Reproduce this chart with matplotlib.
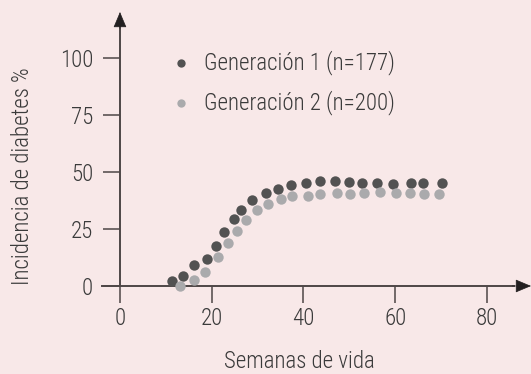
import matplotlib
matplotlib.use("Agg")
import matplotlib.pyplot as plt
from matplotlib import font_manager

# pick a narrow/light face, the original uses a condensed light sans
names = {f.name for f in font_manager.fontManager.ttflist}
family, weight, fsize = "DejaVu Sans", "normal", 13
for cand, w, s in [("Roboto Condensed", "light", 16.5),
                   ("Liberation Sans Narrow", "normal", 16),
                   ("Roboto", "light", 14)]:
    if cand in names:
        family, weight, fsize = cand, w, s
        break
plt.rcParams["font.family"] = [family, "DejaVu Sans"]
plt.rcParams["font.weight"] = weight

# data (weeks of life, % incidence)
weeks_g1 = [11.3, 13.8, 16.1, 19.0, 21.0, 22.7, 24.8, 26.4, 28.8, 31.9, 34.4,
            37.3, 40.6, 43.7, 46.9, 50.0, 52.8, 56.1, 59.6, 63.4, 66.0, 70.2]
inc_g1 = [2.2, 4.5, 9.2, 11.8, 17.7, 23.8, 29.4, 33.3, 37.6, 40.7, 42.7,
          44.4, 45.0, 46.1, 46.1, 45.6, 45.3, 45.3, 44.7, 45.3, 45.0, 45.3]
weeks_g2 = [13.1, 16.1, 18.5, 21.4, 23.6, 25.6, 27.4, 29.9, 32.3, 35.2, 37.6,
            40.9, 43.7, 47.3, 50.1, 53.3, 56.6, 60.1, 63.2, 66.3, 69.6]
inc_g2 = [0.0, 2.6, 6.3, 12.6, 18.7, 24.1, 28.9, 33.3, 35.8, 38.0, 39.3,
          39.3, 40.5, 40.7, 40.5, 40.8, 41.1, 40.8, 40.8, 40.4, 40.4]
labels = ["Generación 1 (n=177)", "Generación 2 (n=200)"]
xticks = [0, 20, 40, 60, 80]
yticks = [0, 25, 50, 75, 100]

bg = "#f8e8e8"
txt = "#3a3a3a"
axcol = "#4e4646"
W, H = 531, 374

fig = plt.figure(figsize=(W / 100, H / 100), dpi=100, facecolor=bg)
ax = fig.add_axes([102 / W, 71 / H, 429 / W, 291 / H], facecolor=bg)

ax.set_xlim(-3.92, 89.6)
ax.set_ylim(-7.46, 120.2)

ax.scatter(weeks_g1, inc_g1, s=56, color="#525252", lw=0, zorder=4,
           clip_on=False, label=labels[0])
ax.scatter(weeks_g2, inc_g2, s=56, color="#aaaaac", lw=0, zorder=4,
           clip_on=False, label=labels[1])

for side in ["top", "right"]:
    ax.spines[side].set_visible(False)
for side in ["left", "bottom"]:
    ax.spines[side].set_position(("data", 0))
    ax.spines[side].set_color(axcol)
    ax.spines[side].set_linewidth(1.4)
ax.spines["left"].set_bounds(0, 115)
ax.spines["bottom"].set_bounds(-3.92, 86)

# arrow heads
ax.annotate("", xy=(89.6, 0), xytext=(85.5, 0),
            arrowprops=dict(arrowstyle="-|>,head_length=1.0,head_width=0.42",
                            color="#231f20", lw=0.5, shrinkA=0, shrinkB=0),
            annotation_clip=False)
ax.annotate("", xy=(0, 120.2), xytext=(0, 113),
            arrowprops=dict(arrowstyle="-|>,head_length=1.0,head_width=0.42",
                            color="#231f20", lw=0.5, shrinkA=0, shrinkB=0),
            annotation_clip=False)

ax.set_xticks(xticks)
ax.set_yticks(yticks)
ax.tick_params(axis="both", direction="out", length=12.3, width=1.1,
               color=axcol, labelcolor=txt, labelsize=fsize)
ax.tick_params(axis="x", pad=2.5)
ax.tick_params(axis="y", pad=7)

fig.text(23 / W, 1 - 176 / H, "Incidencia de diabetes %", rotation=90,
         ha="center", va="center", color=txt, fontsize=fsize)
fig.text(299 / W, 1 - 361 / H, "Semanas de vida", ha="center", va="center",
         color=txt, fontsize=fsize)

leg = ax.legend(loc="upper left", bbox_to_anchor=(170 / W, 1 - 50 / H),
                bbox_transform=fig.transFigure, frameon=False, fontsize=fsize,
                handlelength=1.0, handletextpad=0.5, borderpad=0,
                labelspacing=0.65, scatterpoints=1, borderaxespad=0,
                markerscale=0.8)
for t in leg.get_texts():
    t.set_color(txt)

fig.savefig("out.png", dpi=100, facecolor=bg)
